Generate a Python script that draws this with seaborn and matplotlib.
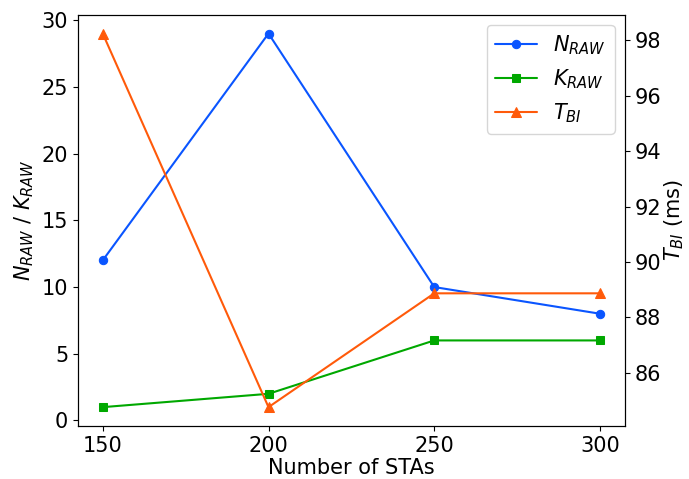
import matplotlib
matplotlib.use("Agg")
import matplotlib.pyplot as plt
import seaborn as sns
import pandas as pd

stas = [150, 200, 250, 300]
n_raw = [12, 29, 10, 8]
k_raw = [1, 2, 6, 6]
t_bi = [98.25, 84.76, 88.87, 88.87]

sns.set_theme(style="ticks", rc={
    "text.color": "black", "axes.labelcolor": "black",
    "xtick.color": "black", "ytick.color": "black",
    "axes.edgecolor": "black",
    "xtick.major.size": 3.5, "ytick.major.size": 3.5,
    "xtick.major.width": 0.8, "ytick.major.width": 0.8,
    "axes.linewidth": 0.8,
})
plt.rcParams['font.family'] = ['DejaVu Sans']

c_blue = '#0a55ff'
c_green = '#00a800'
c_orange = '#ff5a0a'

df = pd.DataFrame({"stas": stas, "n": n_raw, "k": k_raw, "t": t_bi})

fig, ax = plt.subplots(figsize=(6.89, 4.79), dpi=100)
ax2 = ax.twinx()

sns.lineplot(data=df, x="stas", y="n", ax=ax, color=c_blue, marker='o', markersize=6,
             markeredgecolor=c_blue, linewidth=1.5, label=r'$N_{RAW}$', legend=False)
sns.lineplot(data=df, x="stas", y="k", ax=ax, color=c_green, marker='s', markersize=6,
             markeredgecolor=c_green, linewidth=1.5, label=r'$K_{RAW}$', legend=False)
sns.lineplot(data=df, x="stas", y="t", ax=ax2, color=c_orange, marker='^', markersize=7,
             markeredgecolor=c_orange, linewidth=1.5, label=r'$T_{BI}$', legend=False)

ax.set_xticks(stas)
ax.set_xlabel('Number of STAs', fontsize=15, labelpad=2)
ax.set_ylabel(r'$N_{RAW}$ / $K_{RAW}$', fontsize=15, labelpad=4)
ax2.set_ylabel(r'$T_{BI}$ (ms)', fontsize=15, labelpad=1)
ax.set_yticks([0, 5, 10, 15, 20, 25, 30])
ax2.set_yticks([86, 88, 90, 92, 94, 96, 98])
for a in (ax, ax2):
    a.tick_params(labelsize=15, pad=3.5)

h1, l1 = ax.get_legend_handles_labels()
h2, l2 = ax2.get_legend_handles_labels()
ax2.legend(h1 + h2, l1 + l2, loc='upper right', fontsize=15, frameon=True)

plt.subplots_adjust(left=0.113, right=0.907, top=0.969, bottom=0.111)
fig.savefig("out.png", dpi=100)
